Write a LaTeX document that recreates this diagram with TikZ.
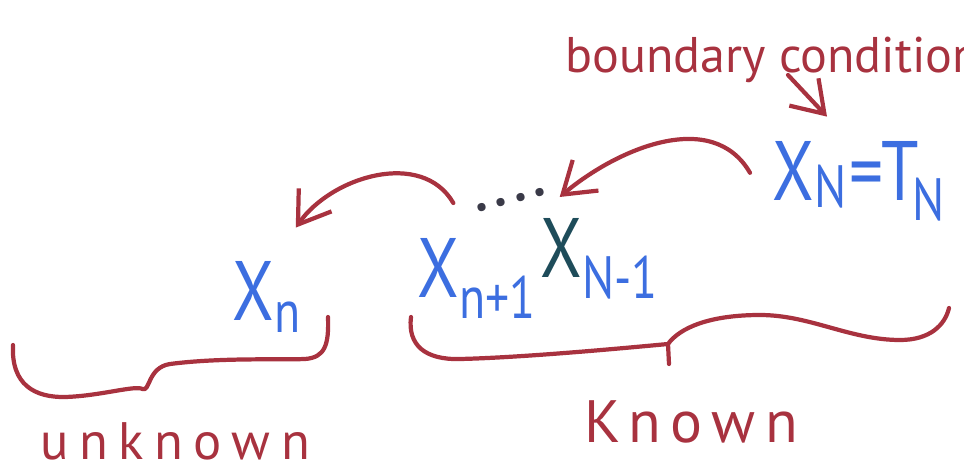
\documentclass[tikz,border=0pt]{standalone}
\usepackage{fontspec}
\setmainfont{PT Sans}
\newfontfamily\penfont[FakeStretch=0.8]{PT Sans}
\newfontfamily\handfont[LetterSpace=20]{PT Sans}
\newfontfamily\bigfont[LetterSpace=16]{PT Sans}
\usetikzlibrary{arrows.meta, positioning, calc}
\definecolor{inkred}{HTML}{A8323F}
\definecolor{inkblue}{HTML}{3C6EE0}
\definecolor{inkteal}{HTML}{1E4C5A}
\definecolor{inkgray}{HTML}{3A3A48}
\newcommand{\lowsub}[2][0.42]{\raisebox{-#1cm}{\fontsize{34}{34}\selectfont #2}}

\begin{document}
\begin{tikzpicture}[
  >={Straight Barb[length=6mm, width=8mm]},
  pen/.style={inkred, line width=2.4pt, line cap=round, line join=round},
  arr/.style={pen, ->},
  word/.style={text=inkred, inner sep=0pt},
  var/.style={text=inkblue, font=\penfont\fontsize{48}{52}\selectfont, inner sep=0pt, anchor=base west}
]

% Canvas 964x470 px -> 19.28 x 9.4 cm
\useasboundingbox (0,0) rectangle (19.28,9.4);
\clip (0,0) rectangle (19.28,9.4);

% Labels
\node[word, anchor=base west, font=\fontsize{28.5}{32}\selectfont] (bc) at (11.3,7.96) {boundary condition};
\node[word, font=\handfont\fontsize{30}{34}\selectfont] (unknown) at (3.5,0.58) {unknown};
\node[word, font=\bigfont\fontsize{34}{38}\selectfont] (known) at (13.82,0.96) {Known};

% Sequence of states
\node[var] (xn) at (4.64,3.0) {X\lowsub[0.25]{n}};
\node[var] (xnp) at (8.34,3.46) {X\lowsub{n+1}};
\node[var] (xnm) at (10.8,3.86) {{\color{inkteal}X}\lowsub{N-1}};
\node[var] (xN) at (15.44,5.4) {X\lowsub[0.14]{N}\kern0.04em=\kern-0.02em T\kern-0.08em\lowsub[0.4]{N}};
\node[text=inkgray, rotate=14, inner sep=0pt, font=\fontsize{40}{40}\selectfont] (dots) at (10.22,5.4) {....};

% Arrows
\draw[arr] ($(bc.base west)+(4.46,-0.06)$) -- ($(xN.north west)+(1.1,0.48)$);
\draw[arr] ($(xN.west)+(-0.44,0.16)$) to[out=120, in=40] ($(dots.east)+(0.25,-0.12)$);
\draw[arr] ($(dots.west)+(-0.43,0.12)$) to[out=120, in=55] ($(xn.north)+(0.59,0.66)$);

% Braces
\draw[pen] (0.26,2.5) .. controls (0.22,1.7) and (0.7,1.45) .. (1.3,1.46)
  .. controls (2.0,1.48) and (2.7,1.7) .. (2.85,1.62)
  .. controls (3.0,1.55) and (2.95,2.05) .. (3.4,2.12)
  .. controls (4.4,2.25) and (5.6,2.2) .. (6.1,2.22)
  .. controls (6.5,2.25) and (6.58,2.5) .. (6.56,3.06);
\draw[pen] (8.22,3.06) .. controls (8.15,2.5) and (8.5,2.2) .. (9.2,2.22)
  .. controls (10.5,2.25) and (12.6,2.45) .. (13.36,2.52)
  .. controls (13.6,2.85) and (14.2,3.1) .. (15.2,3.1)
  .. controls (16.2,3.1) and (17.0,2.6) .. (18.0,2.6)
  .. controls (18.6,2.6) and (18.9,2.9) .. (18.98,3.24);
\draw[pen] (13.36,2.52) -- (13.38,2.12);

\end{tikzpicture}
\end{document}
